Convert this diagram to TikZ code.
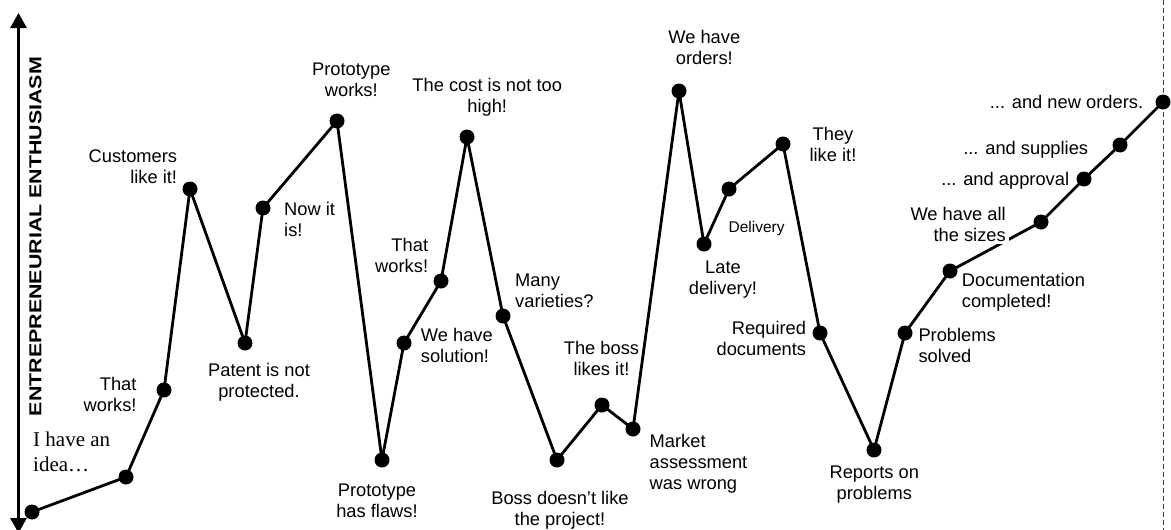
\documentclass[tikz,border=0pt]{standalone}
\usepackage{fontspec}
\setmainfont{Liberation Sans}
\newfontfamily\seriffont{Liberation Serif}
\usepackage{graphicx}
\usetikzlibrary{arrows.meta}
\begin{document}
\begin{tikzpicture}[x=1pt,y=-1pt,
  dot/.style={circle,fill=black,inner sep=0pt,minimum size=15pt},
  curve/.style={line width=2.8pt,line join=round},
  lbl/.style={inner sep=0pt,font=\fontsize{18.3}{21}\selectfont},
  axisline/.style={line width=3pt,{Triangle[length=15pt,width=16pt]}-{Triangle[length=15pt,width=16pt]}},
  dashline/.style={line width=1pt,black!75,dash pattern=on 5pt off 3pt}
]
\useasboundingbox (0,0) rectangle (1171,530);
% dashed end line
\coordinate (dtop) at (1163,0);
\coordinate (dbot) at (1163,530);
\draw[dashline] (dtop) -- (dbot);
% axis
\coordinate (atop) at (18.5,13);
\coordinate (abot) at (18.5,533);
\draw[axisline] (abot) -- (atop);
\node[rotate=90,inner sep=0pt,font=\bfseries\fontsize{17.3}{20}\selectfont] (ylab) at (35.5,236.5) {\scalebox{1.237}[1]{ENTREPRENEURIAL ENTHUSIASM}};
% points
\node[dot] (p1) at (32,512) {};
\node[dot] (p2) at (126,477) {};
\node[dot] (p3) at (164,390) {};
\node[dot] (p4) at (190,189) {};
\node[dot] (p5) at (245,343) {};
\node[dot] (p6) at (263,208) {};
\node[dot] (p7) at (337,121) {};
\node[dot] (p8) at (382,460) {};
\node[dot] (p9) at (404,343) {};
\node[dot] (p10) at (441,281) {};
\node[dot] (p11) at (467,137) {};
\node[dot] (p12) at (503,316) {};
\node[dot] (p13) at (557,460) {};
\node[dot] (p14) at (602,405) {};
\node[dot] (p15) at (633,429) {};
\node[dot] (p16) at (679,91) {};
\node[dot] (p17) at (704,244) {};
\node[dot] (p18) at (729,189) {};
\node[dot] (p19) at (783,144) {};
\node[dot] (p20) at (820,333) {};
\node[dot] (p21) at (874,450) {};
\node[dot] (p22) at (905,333) {};
\node[dot] (p23) at (950,271) {};
\node[dot] (p24) at (1041,222) {};
\node[dot] (p25) at (1084,179) {};
\node[dot] (p26) at (1120,145) {};
\node[dot] (p27) at (1163,102) {};
\draw[curve] (p1.center) -- (p2.center) -- (p3.center) -- (p4.center) -- (p5.center) -- (p6.center) -- (p7.center) -- (p8.center) -- (p9.center) -- (p10.center) -- (p11.center) -- (p12.center) -- (p13.center) -- (p14.center) -- (p15.center) -- (p16.center) -- (p17.center) -- (p18.center) -- (p19.center) -- (p20.center) -- (p21.center) -- (p22.center) -- (p23.center) -- (p24.center) -- (p25.center) -- (p26.center) -- (p27.center);
% labels
\node[lbl,anchor=north west,align=left,font=\seriffont\fontsize{21}{25}\selectfont] (t1) at (33,432) {I have an\\idea…};
\node[lbl,anchor=north east,align=right] (t3) at (136.7,377) {That\\works!};
\node[lbl,anchor=north east,align=right] (t4) at (177.3,150) {Customers\\like it!};
\node[lbl,anchor=north,align=center] (t5) at (259,362.7) {Patent is not\\protected.};
\node[lbl,anchor=north west,align=left] (t6) at (284,201.7) {Now it\\is!};
\node[lbl,anchor=north,align=center] (t7) at (351.3,62.7) {Prototype\\works!};
\node[lbl,anchor=north,align=center] (t8) at (377,483.3) {Prototype\\has flaws!};
\node[lbl,anchor=north west,align=left] (t9) at (420.7,328.3) {We have\\solution!};
\node[lbl,anchor=north east,align=right] (t10) at (428.3,238.3) {That\\works!};
\node[lbl,anchor=north,align=center] (t11) at (487.2,78.3) {The cost is not too\\high!};
\node[lbl,anchor=north west,align=left] (t12) at (515,273.3) {Many\\varieties?};
\node[lbl,anchor=north,align=center] (t13) at (560,491) {Boss doesn’t like\\the project!};
\node[lbl,anchor=north,align=center] (t14) at (601.5,340.7) {The boss\\likes it!};
\node[lbl,anchor=north west,align=left] (t15) at (649.5,434) {Market\\assessment\\was wrong};
\node[lbl,anchor=north,align=center] (t16) at (704.3,30) {We have\\orders!};
\node[lbl,anchor=north,align=center] (t17) at (723,260.3) {Late\\delivery!};
\node[lbl,anchor=north,font=\fontsize{15.5}{18}\selectfont] (t18) at (756.6,221.4) {Delivery};
\node[lbl,anchor=north,align=center] (t19) at (833,126.8) {They\\like it!};
\node[lbl,anchor=north east,align=right] (t20) at (806.3,321.2) {Required\\documents};
\node[lbl,anchor=north,align=center] (t21) at (874.3,465.9) {Reports on\\problems};
\node[lbl,anchor=north west,align=left] (t22) at (918.3,328.3) {Problems\\solved};
\node[lbl,anchor=north west,align=left] (t23) at (961.7,273.3) {Documentation\\completed!};
\node[lbl,anchor=north east,align=right,fill=white,inner sep=3pt] (t24) at (1009,203.7) {We have all\\the sizes};
\node[lbl,anchor=north east] (t25) at (1069.3,171.7) {... and approval};
\node[lbl,anchor=north east] (t26) at (1088.3,141) {... and supplies};
\node[lbl,anchor=north east] (t27) at (1143.3,95) {... and new orders.};
\end{tikzpicture}
\end{document}
